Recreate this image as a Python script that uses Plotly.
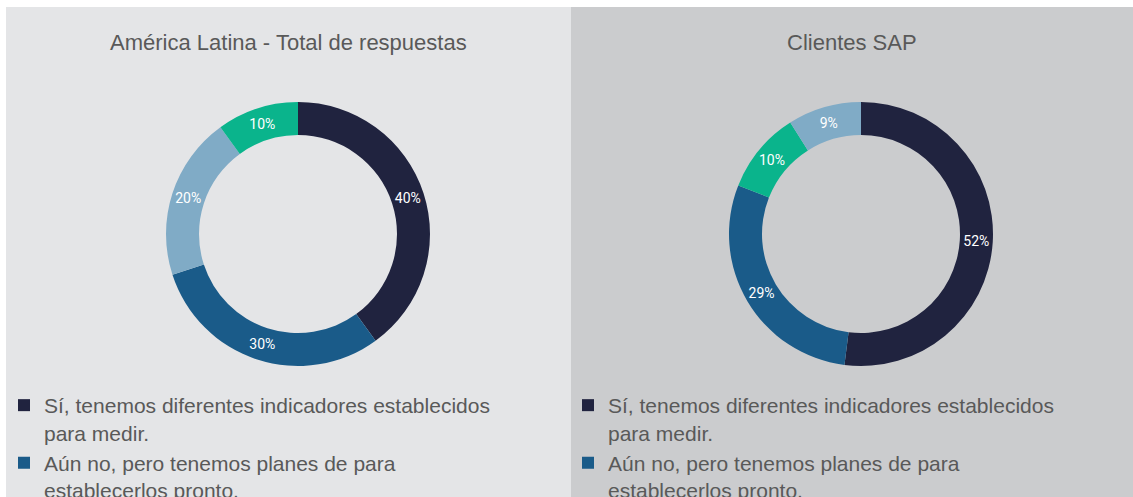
import plotly.graph_objects as go

# ---- data ----
labels_left = [
    "Sí, tenemos diferentes indicadores establecidos<br>para medir.",
    "Aún no, pero tenemos planes de para<br>establecerlos pronto.",
    "No, y no tenemos planes de<br>establecerlos.",
    "No lo sé.",
]
values_left = [40, 30, 20, 10]
colors_left = ["#20233f", "#1a5b89", "#80abc6", "#0ab48c"]

labels_right = [
    "Sí, tenemos diferentes indicadores establecidos<br>para medir.",
    "Aún no, pero tenemos planes de para<br>establecerlos pronto.",
    "No lo sé.",
    "No, y no tenemos planes de<br>establecerlos.",
]
values_right = [52, 29, 10, 9]
colors_right = ["#20233f", "#1a5b89", "#0ab48c", "#80abc6"]

titles = ["América Latina - Total de respuestas", "Clientes SAP"]

W, H = 1133, 497
TXT = "Liberation Sans, Arial, sans-serif"

fig = go.Figure()

common = dict(
    hole=0.75,
    sort=False,
    direction="clockwise",
    rotation=0,
    texttemplate="%{percent:.0%}",
    textposition="inside",
    insidetextorientation="horizontal",
    textfont=dict(family="Roboto, sans-serif", size=14, color="white"),
    marker_line_width=0,
    hoverinfo="label+percent",
)

fig.add_trace(go.Pie(
    labels=labels_left, values=values_left,
    marker_colors=colors_left,
    domain=dict(x=[166 / W, 430 / W], y=[131 / H, 395 / H]),
    legend="legend",
    legendgroup="total",
    **common,
))
fig.add_trace(go.Pie(
    labels=labels_right, values=values_right,
    marker_colors=colors_right,
    domain=dict(x=[729 / W, 993 / W], y=[131 / H, 395 / H]),
    legend="legend2",
    legendgroup="sap",
    **common,
))

legend_style = dict(
    font=dict(family=TXT, size=21, color="#595959"),
    bgcolor="rgba(0,0,0,0)",
    borderwidth=0,
    orientation="v",
    valign="top",
    xanchor="left",
    yanchor="top",
    traceorder="normal",
)

fig.update_layout(
    width=W, height=H,
    margin=dict(l=0, r=0, t=0, b=0, autoexpand=False),
    paper_bgcolor="white",
    plot_bgcolor="white",
    legend=dict(x=4 / W, y=1 - 385 / H, **legend_style),
    legend2=dict(x=568 / W, y=1 - 385 / H, **legend_style),
    shapes=[
        dict(type="rect", xref="paper", yref="paper",
             x0=6 / W, x1=571 / W, y0=0, y1=1 - 7 / H,
             fillcolor="#e4e5e7", line_width=0, layer="below"),
        dict(type="rect", xref="paper", yref="paper",
             x0=571 / W, x1=1, y0=0, y1=1 - 7 / H,
             fillcolor="#cbccce", line_width=0, layer="below"),
    ],
    annotations=[
        dict(text=titles[0], x=288 / W, y=1 - 42 / H, xref="paper", yref="paper",
             showarrow=False, xanchor="center", yanchor="middle",
             font=dict(family=TXT, size=22, color="#595959")),
        dict(text=titles[1], x=852 / W, y=1 - 42 / H, xref="paper", yref="paper",
             showarrow=False, xanchor="center", yanchor="middle",
             font=dict(family=TXT, size=22, color="#595959")),
    ],
)

fig.write_html(
    "out.html",
    config={"displayModeBar": False},
    post_script="document.body.style.margin='0px';document.body.style.overflow='hidden';",
)
